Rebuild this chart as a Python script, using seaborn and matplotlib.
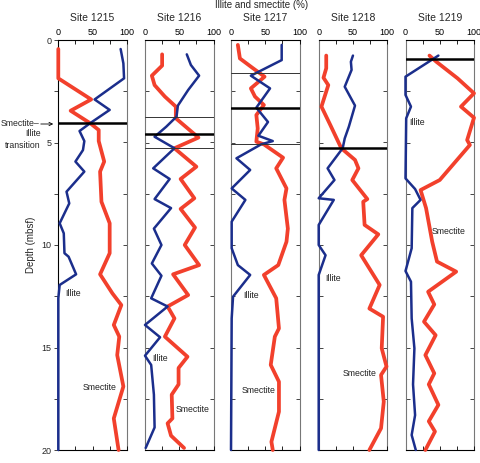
import numpy as np
import pandas as pd
import matplotlib.pyplot as plt
import seaborn as sns

# ---- data (depth in mbsf, percent) ----
sites = ['Site 1215', 'Site 1216', 'Site 1217', 'Site 1218', 'Site 1219']

ill_1215_d = [0.44, 1.14, 1.87, 2.9, 3.41, 4.07, 4.44, 4.93, 5.37, 5.93, 6.42, 7.4, 7.97, 8.94, 9.43, 10.4, 10.57, 11.43, 11.95, 12.6, 20.0]
ill_1215_v = [91, 95, 96, 53, 75, 46, 31, 38, 36, 25, 38, 12, 16, 2, 8, 9, 15, 26, 2, 0, 0]
sme_1215_d = [0.44, 1.87, 2.9, 3.45, 4.07, 4.39, 4.93, 5.93, 6.42, 7.89, 8.94, 10.4, 11.43, 12.36, 12.93, 13.9, 14.47, 15.37, 16.9, 18.46, 20.0]
sme_1215_v = [0, 0, 48, 18, 47, 59, 59, 67, 61, 63, 75, 75, 61, 79, 92, 81, 89, 86, 95, 81, 88]

ill_1216_d = [0.7, 1.22, 1.74, 2.44, 3.2, 3.74, 4.23, 4.72, 5.28, 6.26, 6.78, 7.76, 8.2, 9.2, 10.0, 10.9, 11.5, 12.6, 13.0, 13.9, 14.5, 15.4, 15.85, 17.3, 18.9, 19.9]
ill_1216_v = [61, 67, 79, 63, 48, 46, 31, 14, 43, 12, 36, 14, 38, 13, 24, 10, 24, 9, 33, 0, 22, 0, 9, 13, 14, 1]
sme_1216_d = [0.7, 1.25, 1.74, 2.2, 2.76, 3.25, 3.82, 4.76, 5.28, 6.18, 6.78, 7.72, 8.24, 9.15, 10.0, 10.98, 11.43, 12.44, 13.0, 13.58, 14.47, 15.45, 16.0, 16.8, 17.3, 18.46, 18.7, 19.3, 19.9]
sme_1216_v = [25, 25, 10, 14, 29, 45, 45, 78, 43, 75, 52, 72, 52, 73, 58, 79, 41, 63, 33, 43, 29, 62, 49, 49, 39, 40, 33, 38, 57]

ill_1217_d = [0.24, 0.98, 1.74, 2.36, 3.3, 4.0, 4.67, 4.93, 5.09, 5.77, 6.34, 7.24, 7.8, 8.86, 10.16, 10.98, 11.46, 12.52, 13.58, 20.0]
ill_1217_v = [74, 74, 29, 57, 37, 54, 40, 61, 44, 8, 28, 1, 21, 1, 1, 10, 28, 3, 1, 0]
sme_1217_d = [0.24, 0.9, 1.35, 1.79, 2.36, 2.76, 3.17, 3.66, 4.31, 4.96, 5.09, 5.74, 6.26, 7.24, 7.8, 9.2, 9.84, 10.98, 11.46, 12.6, 14.07, 14.47, 15.85, 16.67, 18.13, 19.6, 20.0]
sme_1217_v = [10, 13, 31, 49, 29, 35, 48, 37, 39, 37, 48, 76, 66, 81, 78, 83, 81, 69, 48, 66, 70, 64, 58, 70, 70, 59, 61]

ill_1218_d = [0.76, 1.06, 1.46, 2.28, 3.2, 4.23, 4.8, 5.28, 6.26, 6.83, 7.72, 7.8, 9.02, 10.0, 10.5, 11.46, 20.0]
ill_1218_v = [50, 47, 48, 38, 53, 44, 38, 35, 13, 23, 0, 22, 0, 0, 10, 0, 0]
sme_1218_d = [0.76, 1.38, 1.84, 2.2, 3.25, 4.15, 5.28, 5.85, 6.26, 6.83, 7.76, 7.89, 9.02, 9.48, 10.5, 11.95, 13.1, 13.5, 15.04, 15.93, 16.34, 17.64, 18.94, 20.0]
sme_1218_v = [11, 11, 7, 14, 4, 17, 33, 53, 58, 49, 71, 65, 67, 87, 62, 89, 74, 94, 92, 99, 91, 95, 91, 74]

ill_1219_d = [0.76, 1.79, 2.68, 3.25, 3.82, 6.75, 7.27, 7.8, 8.2, 10.16, 11.27, 11.79, 13.58, 15.04, 16.8, 18.3, 19.27, 20.0]
ill_1219_v = [48, 0, 0, 8, 1, 0, 14, 22, 10, 9, 0, 8, 9, 13, 11, 14, 9, 15]
sme_1219_d = [0.76, 1.06, 1.87, 2.6, 3.25, 3.79, 4.88, 5.12, 6.83, 7.32, 8.2, 9.84, 10.81, 11.3, 12.28, 12.9, 13.74, 14.4, 15.37, 16.26, 16.8, 17.8, 18.6, 19.1, 20.0]
sme_1219_v = [35, 45, 76, 100, 81, 100, 90, 94, 50, 22, 30, 39, 46, 74, 33, 42, 27, 44, 29, 42, 34, 48, 34, 43, 29]

illite = [(ill_1215_d, ill_1215_v), (ill_1216_d, ill_1216_v), (ill_1217_d, ill_1217_v),
          (ill_1218_d, ill_1218_v), (ill_1219_d, ill_1219_v)]
smectite = [(sme_1215_d, sme_1215_v), (sme_1216_d, sme_1216_v), (sme_1217_d, sme_1217_v),
            (sme_1218_d, sme_1218_v), (sme_1219_d, sme_1219_v)]

# horizontal marker lines (thick = transition, thin = other boundaries)
thick_lines = [[4.07], [4.59], [3.3], [5.28], [0.93]]
thin_lines = [[], [3.74, 5.25], [1.6, 5.09], [], []]

# label positions (value, depth) for each panel
illite_lab = [(22, 12.35), (21.6, 15.53), (30, 12.44), (21, 11.63), (17, 4.02)]
smectite_lab = [(61, 16.96), (69.9, 18.0), (39.6, 17.1), (59, 16.26), (63, 9.35)]

RED = '#f2402c'
BLUE = '#1b2e8c'

sns.set_theme(style='white')
plt.rcParams['font.family'] = ['Liberation Sans', 'DejaVu Sans']

fig = plt.figure(figsize=(4.8, 4.63), dpi=100)
lefts = [58.3, 145, 231, 318.7, 405.5]
W, H = 480, 463

for i, site in enumerate(sites):
    ax = fig.add_axes([lefts[i] / W, 1 - 450 / H, 68.5 / W, 410 / H])
    df_i = pd.DataFrame({'depth': illite[i][0], 'pct': illite[i][1]})
    df_s = pd.DataFrame({'depth': smectite[i][0], 'pct': smectite[i][1]})
    sns.lineplot(data=df_s, x='pct', y='depth', orient='y', sort=False, estimator=None,
                 color=RED, lw=2.7, ax=ax, clip_on=False, zorder=3)
    sns.lineplot(data=df_i, x='pct', y='depth', orient='y', sort=False, estimator=None,
                 color=BLUE, lw=1.8, ax=ax, clip_on=False, zorder=4)
    for d in thick_lines[i]:
        ax.axhline(d, color='black', lw=1.8, zorder=5)
    for d in thin_lines[i]:
        ax.axhline(d, color='#333333', lw=0.7, zorder=5)

    ax.set_xlim(0, 100)
    ax.set_ylim(20, 0)
    ax.set_xlabel('')
    ax.set_ylabel('')
    ax.set_title(site, fontsize=7.5, pad=14)

    ax.xaxis.tick_top()
    ax.set_xticks([0, 25, 50, 75, 100])
    ax.set_xticklabels(['0', '', '50', '', '100'])
    ax.tick_params(axis='x', top=True, bottom=True, direction='in', length=3,
                   width=0.6, labeltop=True, labelbottom=False, labelsize=6.5, pad=2, colors='black')

    ax.set_yticks(np.arange(0, 20.1, 2.5))
    if i == 0:
        ax.set_yticklabels(['0', '', '5', '', '10', '', '15', '', '20'])
        ax.tick_params(axis='y', left=True, right=False, direction='out', length=3,
                       width=0.6, labelsize=6.5, pad=2)
        ax.set_ylabel('Depth (mbsf)', fontsize=7, labelpad=4)
    else:
        ax.set_yticklabels([])
        ax.tick_params(axis='y', left=True, right=False, direction='in', length=3, width=0.6)
    sec = ax.secondary_yaxis('right')
    sec.set_yticks(np.arange(0, 20.1, 2.5))
    sec.set_yticklabels([])
    sec.tick_params(direction='in', length=3, width=0.6)
    sec.spines['right'].set_color('#777777')
    sec.spines['right'].set_linewidth(0.8)

    for side in ['top', 'bottom']:
        ax.spines[side].set_color('black')
        ax.spines[side].set_linewidth(0.8)
    ax.spines['left'].set_color('black' if i == 0 else '#777777')
    ax.spines['left'].set_linewidth(0.8)
    ax.spines['right'].set_visible(False)

    ax.text(illite_lab[i][0], illite_lab[i][1], 'Illite', fontsize=6.3,
            ha='center', va='center', color='#222222')
    ax.text(smectite_lab[i][0], smectite_lab[i][1], 'Smectite', fontsize=6.3,
            ha='center', va='center', color='#222222')

fig.text(262 / W, 1 - 5 / H, 'Illite and smectite (%)', fontsize=7, ha='center', va='center')

# transition annotation on the left
fig.text(1 / W, 1 - 124 / H, 'Smectite\u2013', fontsize=6.3, ha='left', va='center')
fig.patches.append(plt.matplotlib.patches.FancyArrowPatch(
    (38 / W, 1 - 124 / H), (56 / W, 1 - 124 / H), transform=fig.transFigure,
    arrowstyle='->', mutation_scale=6, lw=0.6, color='black'))
fig.text(41 / W, 1 - 134 / H, 'Illite', fontsize=6.3, ha='right', va='center')
fig.text(41 / W, 1 - 145 / H, 'transition', fontsize=6.3, ha='right', va='center')

fig.savefig('out.png', dpi=100)
